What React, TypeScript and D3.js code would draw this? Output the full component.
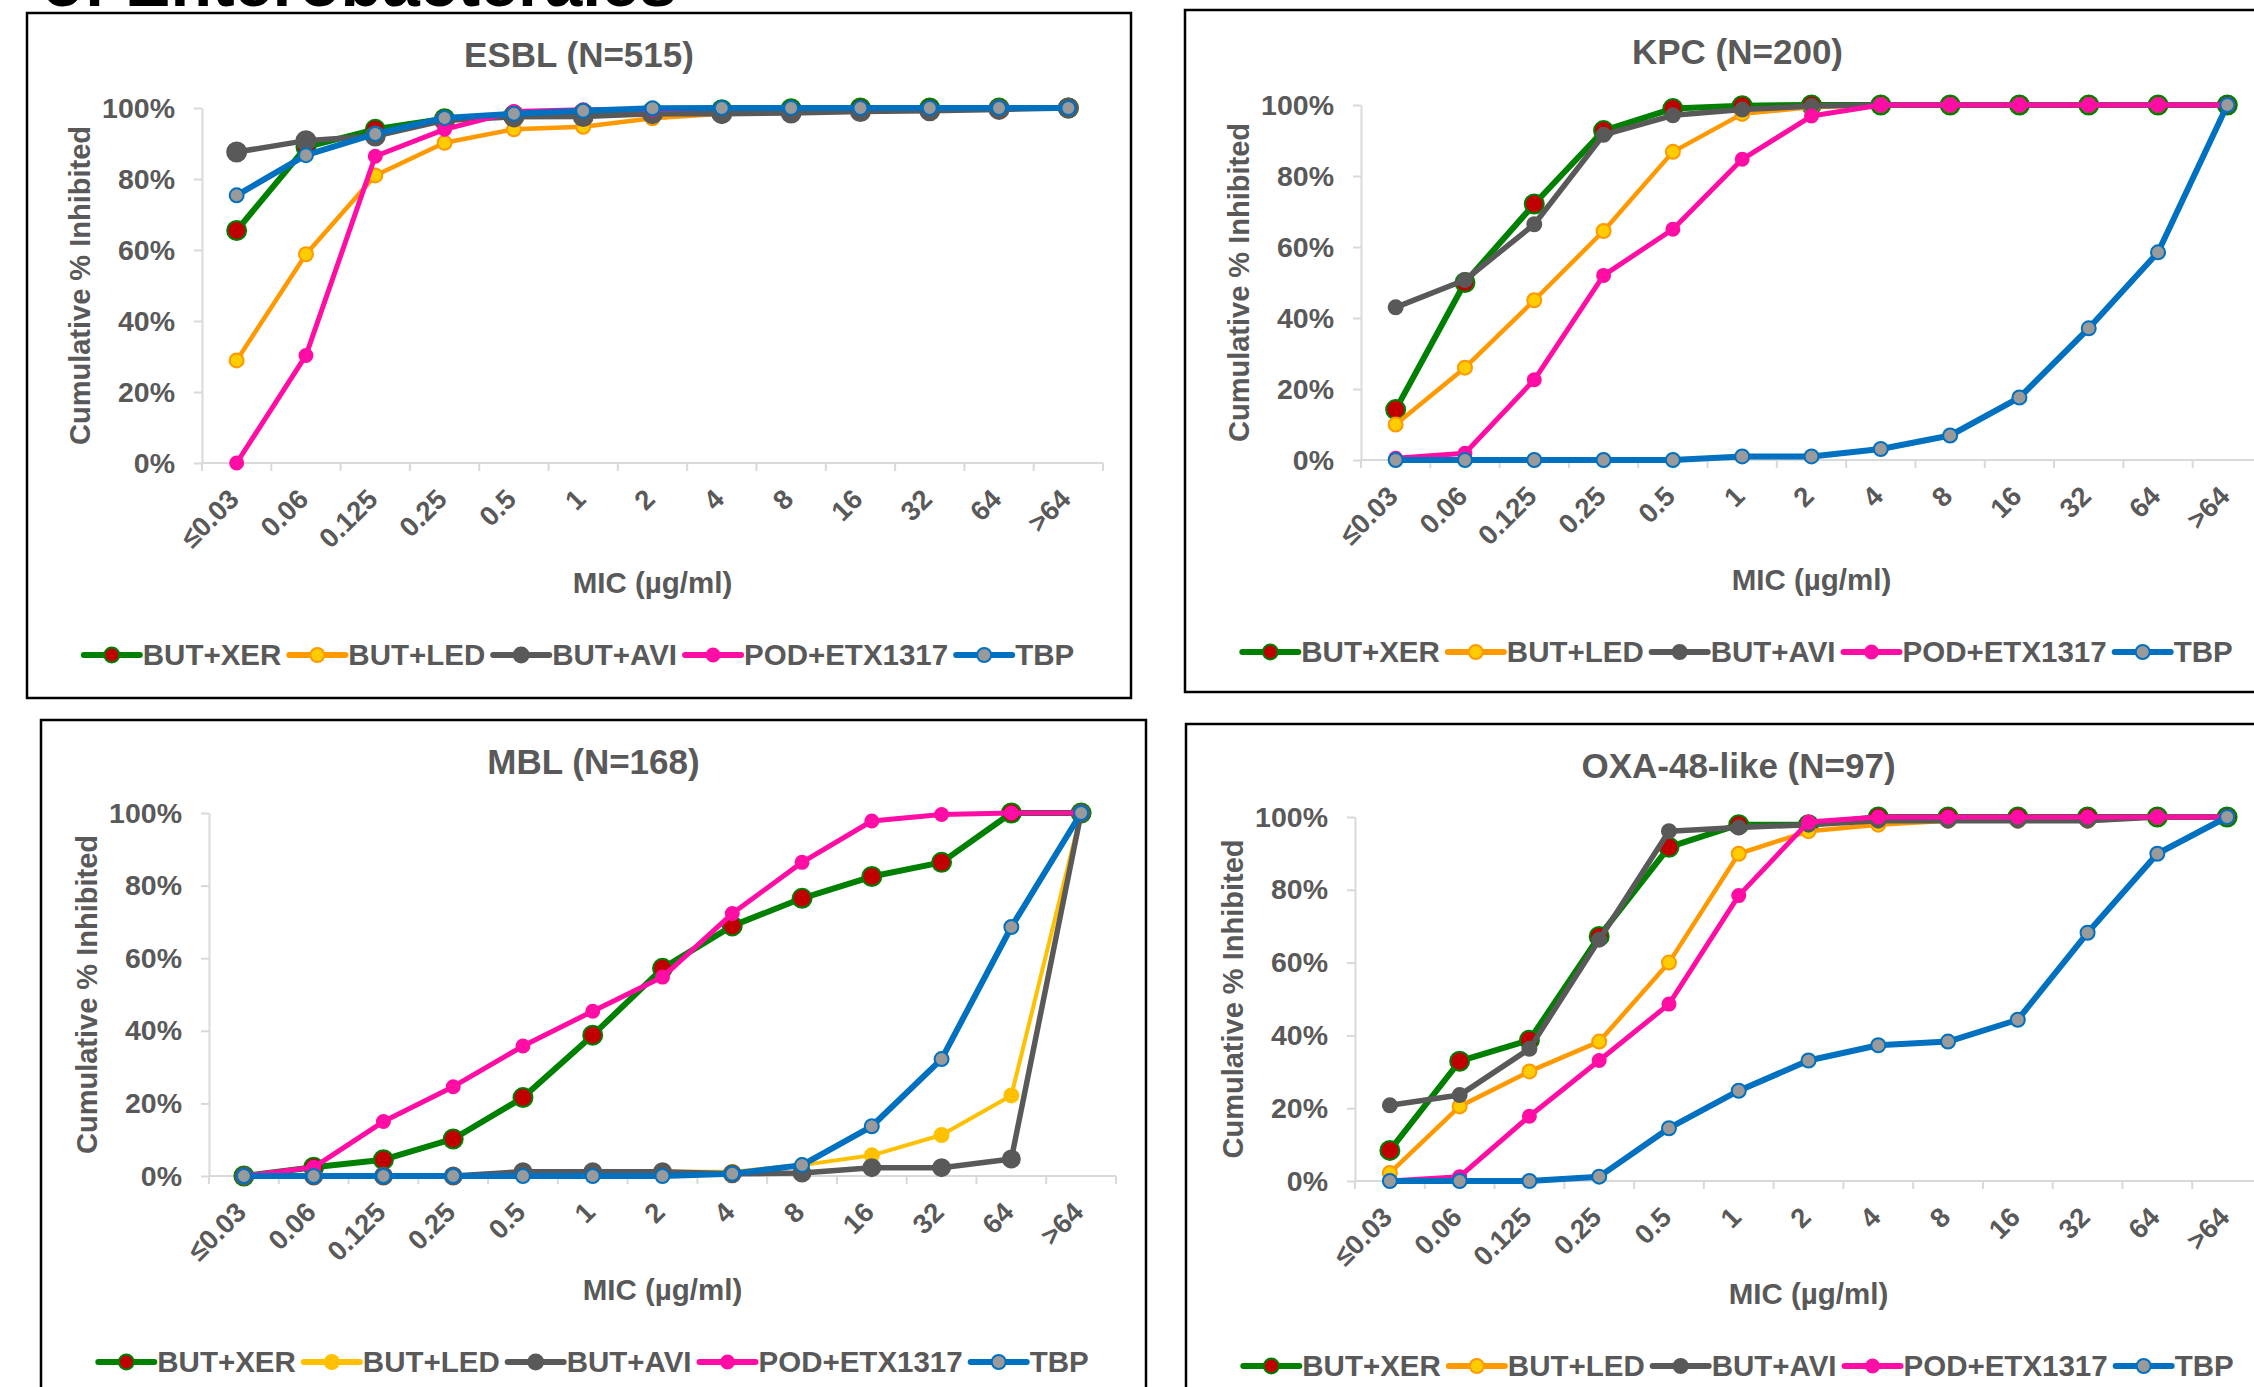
import React, { useEffect, useRef } from "react";
import * as d3 from "d3";

const W = 2254;
const H = 1387;
const FONT = "'Liberation Sans', Arial, sans-serif";
const TXT = "#595959";
const AXIS = "#d9d9d9";

const categories = ["≤0.03", "0.06", "0.125", "0.25", "0.5", "1", "2", "4", "8", "16", "32", "64", ">64"];
const seriesNames = ["BUT+XER", "BUT+LED", "BUT+AVI", "POD+ETX1317", "TBP"];
const yTicks = [0, 20, 40, 60, 80, 100];

// ESBL (N=515)
const esblXer = [65.5, 89, 94, 97, 98, 98.5, 99, 99.5, 99.8, 100, 100, 100, 100];
const esblLed = [28.9, 58.8, 81, 90.2, 94, 94.7, 97.1, 98.4, 99, 99.2, 99.5, 99.6, 100];
const esblAvi = [87.6, 90.8, 92.1, 96.5, 97.5, 97.6, 98.4, 98.4, 98.6, 99, 99.2, 99.6, 100];
const esblPod = [0, 30.3, 86.4, 94, 99, 99.5, 99.6, 100, 100, 100, 100, 100, 100];
const esblTbp = [75.4, 86.7, 92.7, 97.2, 98.4, 99.2, 99.9, 100, 100, 100, 100, 100, 100];

// KPC (N=200)
const kpcXer = [14.2, 50, 72.1, 92.8, 99, 99.8, 100, 100, 100, 100, 100, 100, 100];
const kpcLed = [10, 26, 45, 64.5, 86.8, 97.5, 99.4, 100, 100, 100, 100, 100, 100];
const kpcAvi = [43, 50.7, 66.4, 91.6, 97.1, 98.7, 99.7, 100, 100, 100, 100, 100, 100];
const kpcPod = [0.5, 1.9, 22.6, 52, 65, 84.7, 96.9, 100, 100, 100, 100, 100, 100];
const kpcTbp = [0, 0, 0, 0, 0, 1, 1, 3.1, 6.9, 17.6, 37.1, 58.5, 100];

// MBL (N=168)
const mblXer = [0, 2.4, 4.5, 10.2, 21.6, 38.8, 57.2, 68.9, 76.5, 82.5, 86.4, 100, 100];
const mblLed = [0, 0, 0, 0, 1.2, 1.2, 1.2, 1.2, 3, 5.7, 11.3, 22.2, 100];
const mblAvi = [0, 0, 0, 0, 1.2, 1.2, 1.2, 0.6, 0.8, 2.3, 2.3, 4.7, 100];
const mblPod = [0, 2.4, 15, 24.6, 35.8, 45.4, 54.8, 72.3, 86.4, 97.8, 99.6, 100, 100];
const mblTbp = [0, 0, 0, 0, 0, 0, 0, 0.6, 3, 13.7, 32.2, 68.6, 100];

// OXA-48-like (N=97)
const oxaXer = [8.4, 32.9, 38.7, 67.2, 91.7, 97.9, 97.9, 100, 100, 100, 100, 100, 100];
const oxaLed = [2.2, 20.5, 30.1, 38.3, 60, 89.9, 96.1, 97.9, 99, 99, 99, 100, 100];
const oxaAvi = [20.8, 23.6, 36.3, 66.3, 96.1, 97.1, 97.9, 99, 99, 99, 99, 100, 100];
const oxaPod = [0, 1.2, 17.8, 33.1, 48.6, 78.4, 98.6, 100, 100, 100, 100, 100, 100];
const oxaTbp = [0, 0, 0, 1.2, 14.5, 24.8, 33.1, 37.3, 38.3, 44.3, 68.2, 89.9, 100];

const xerStyle = { line: "#008000", fill: "#C00000", stroke: "#008000", width: 6, r: 10.5 };
const ledOrange = { line: "#FF9900", fill: "#FFCC00", stroke: "#FF9900", width: 4.5, r: 8 };
const ledYellow = { line: "#FFC000", fill: "#FFC000", stroke: "#FFC000", width: 4, r: 8 };
const aviStyle = { line: "#595959", fill: "#595959", stroke: "#595959", width: 5.5, r: 8 };
const podStyle = { line: "#FF0DA5", fill: "#FF0DA5", stroke: "#FF0DA5", width: 5, r: 7.5 };
const tbpStyle = { line: "#0070C0", fill: "#9A9A9A", stroke: "#0070C0", width: 6, r: 8 };

const panels = [
  {
    title: "ESBL (N=515)",
    box: { x: 27, y: 13, w: 1104, h: 685 },
    plot: { left: 202, top: 108, bottom: 463, width: 901 },
    data: [esblXer, esblLed, esblAvi, esblPod, esblTbp],
    styles: [xerStyle, ledOrange, { ...aviStyle, r: 10.5 }, podStyle, tbpStyle],
  },
  {
    title: "KPC (N=200)",
    box: { x: 1185, y: 10, w: 1105, h: 682 },
    plot: { left: 1361, top: 105, bottom: 460, width: 901 },
    data: [kpcXer, kpcLed, kpcAvi, kpcPod, kpcTbp],
    styles: [xerStyle, ledOrange, { ...aviStyle, r: 8 }, podStyle, tbpStyle],
  },
  {
    title: "MBL (N=168)",
    box: { x: 41, y: 720, w: 1105, h: 700 },
    plot: { left: 209, top: 813, bottom: 1176, width: 907 },
    data: [mblXer, mblLed, mblAvi, mblPod, mblTbp],
    styles: [xerStyle, ledYellow, { ...aviStyle, r: 9.5 }, podStyle, tbpStyle],
  },
  {
    title: "OXA-48-like (N=97)",
    box: { x: 1186, y: 724, w: 1105, h: 700 },
    plot: { left: 1355, top: 817, bottom: 1181, width: 907 },
    data: [oxaXer, oxaLed, oxaAvi, oxaPod, oxaTbp],
    styles: [xerStyle, ledOrange, { ...aviStyle, r: 8 }, podStyle, tbpStyle],
  },
];

function drawPanel(svg, p) {
  const g = svg.append("g");
  const { box, plot } = p;

  g.append("rect")
    .attr("x", box.x)
    .attr("y", box.y)
    .attr("width", box.w)
    .attr("height", box.h)
    .attr("fill", "#fff")
    .attr("stroke", "#000")
    .attr("stroke-width", 2.5);

  const x = d3
    .scaleBand()
    .domain(categories)
    .range([plot.left, plot.left + plot.width]);
  const y = d3.scaleLinear().domain([0, 100]).range([plot.bottom, plot.top]);
  const cx = (i) => x(categories[i]) + x.bandwidth() / 2;

  // y axis
  const ya = g
    .append("g")
    .attr("transform", `translate(${plot.left},0)`)
    .call(
      d3
        .axisLeft(y)
        .tickValues(yTicks)
        .tickSize(8)
        .tickSizeOuter(0)
        .tickPadding(19)
        .tickFormat((d) => d + "%")
    );
  ya.select(".domain").attr("stroke", AXIS).attr("stroke-width", 2);
  ya.selectAll(".tick line").attr("stroke", AXIS).attr("stroke-width", 2);
  ya.selectAll(".tick text")
    .attr("fill", TXT)
    .attr("font-size", 28.5)
    .attr("font-weight", "bold")
    .attr("font-family", FONT);

  // x axis (ticks between categories)
  const x0 = y(0);
  const xa = g.append("g");
  xa.append("line")
    .attr("x1", plot.left)
    .attr("x2", plot.left + plot.width)
    .attr("y1", x0)
    .attr("y2", x0)
    .attr("stroke", AXIS)
    .attr("stroke-width", 2);
  const bounds = categories.map((c) => x(c)).concat([x.range()[1]]);
  xa.selectAll("line.tk")
    .data(bounds)
    .join("line")
    .attr("class", "tk")
    .attr("x1", (d) => d)
    .attr("x2", (d) => d)
    .attr("y1", x0)
    .attr("y2", x0 + 8)
    .attr("stroke", AXIS)
    .attr("stroke-width", 2);
  xa.selectAll("text")
    .data(categories)
    .join("text")
    .attr("transform", (d, i) => `translate(${cx(i) + 4},${x0 + 38}) rotate(-45)`)
    .attr("text-anchor", "end")
    .attr("fill", TXT)
    .attr("font-size", 27.5)
    .attr("font-weight", "bold")
    .attr("font-family", FONT)
    .text((d) => d);

  // titles
  g.append("text")
    .attr("x", box.x + box.w / 2)
    .attr("y", box.y + 42)
    .attr("dy", "0.35em")
    .attr("text-anchor", "middle")
    .attr("fill", TXT)
    .attr("font-size", 35)
    .attr("font-weight", "bold")
    .attr("font-family", FONT)
    .text(p.title);

  g.append("text")
    .attr("transform", `translate(${plot.left - 122},${(plot.top + plot.bottom) / 2}) rotate(-90)`)
    .attr("dy", "0.35em")
    .attr("text-anchor", "middle")
    .attr("fill", TXT)
    .attr("font-size", 29)
    .attr("font-weight", "bold")
    .attr("font-family", FONT)
    .text("Cumulative % Inhibited");

  g.append("text")
    .attr("x", plot.left + plot.width / 2)
    .attr("y", box.y + 570)
    .attr("dy", "0.35em")
    .attr("text-anchor", "middle")
    .attr("fill", TXT)
    .attr("font-size", 29.5)
    .attr("font-weight", "bold")
    .attr("font-family", FONT)
    .text("MIC (µg/ml)");

  // series
  const line = d3
    .line()
    .x((d, i) => cx(i))
    .y((d) => y(d));

  p.data.forEach((values, s) => {
    const st = p.styles[s];
    g.append("path")
      .datum(values)
      .attr("fill", "none")
      .attr("stroke", st.line)
      .attr("stroke-width", st.width)
      .attr("stroke-linejoin", "round")
      .attr("d", line);
    g.append("g")
      .selectAll("circle")
      .data(values)
      .join("circle")
      .attr("cx", (d, i) => cx(i))
      .attr("cy", (d) => y(d))
      .attr("r", st.r - 1)
      .attr("fill", st.fill)
      .attr("stroke", st.stroke)
      .attr("stroke-width", 2);
  });

  // legend
  const lg = g.append("g");
  const ly = box.y + 642;
  const items = seriesNames.map((name, s) => {
    const it = lg.append("g");
    const st = p.styles[s];
    it.append("line")
      .attr("x1", 0)
      .attr("x2", 56)
      .attr("y1", 0)
      .attr("y2", 0)
      .attr("stroke", st.line)
      .attr("stroke-width", 6)
      .attr("stroke-linecap", "round");
    it.append("circle")
      .attr("cx", 28)
      .attr("cy", 0)
      .attr("r", Math.min(st.r, 8.5) - 1)
      .attr("fill", st.fill)
      .attr("stroke", st.stroke)
      .attr("stroke-width", 2);
    const t = it
      .append("text")
      .attr("x", 59)
      .attr("y", 0)
      .attr("dy", "0.35em")
      .attr("fill", TXT)
      .attr("font-size", 29.5)
      .attr("font-weight", "bold")
      .attr("font-family", FONT)
      .text(name);
    return { it, w: 59 + t.node().getComputedTextLength() };
  });
  const gap = 8;
  const total = d3.sum(items, (d) => d.w) + gap * (items.length - 1);
  let cur = box.x + box.w / 2 - total / 2;
  items.forEach((d) => {
    d.it.attr("transform", `translate(${cur},${ly})`);
    cur += d.w + gap;
  });
}

export default function App() {
  const ref = useRef(null);

  useEffect(() => {
    const svg = d3.select(ref.current);
    svg.selectAll("*").remove();
    svg.append("rect").attr("width", W).attr("height", H).attr("fill", "#fff");

    svg.append("text")
      .attr("x", 42)
      .attr("y", 6)
      .attr("fill", "#000")
      .attr("font-size", 68)
      .attr("font-weight", "bold")
      .attr("font-family", FONT)
      .text("of Enterobacterales");

    panels.forEach((p) => drawPanel(svg, p));
  }, []);

  return (
    <svg
      ref={ref}
      width={W}
      height={H}
      style={{ position: "absolute", left: 0, top: 0, display: "block" }}
    />
  );
}
